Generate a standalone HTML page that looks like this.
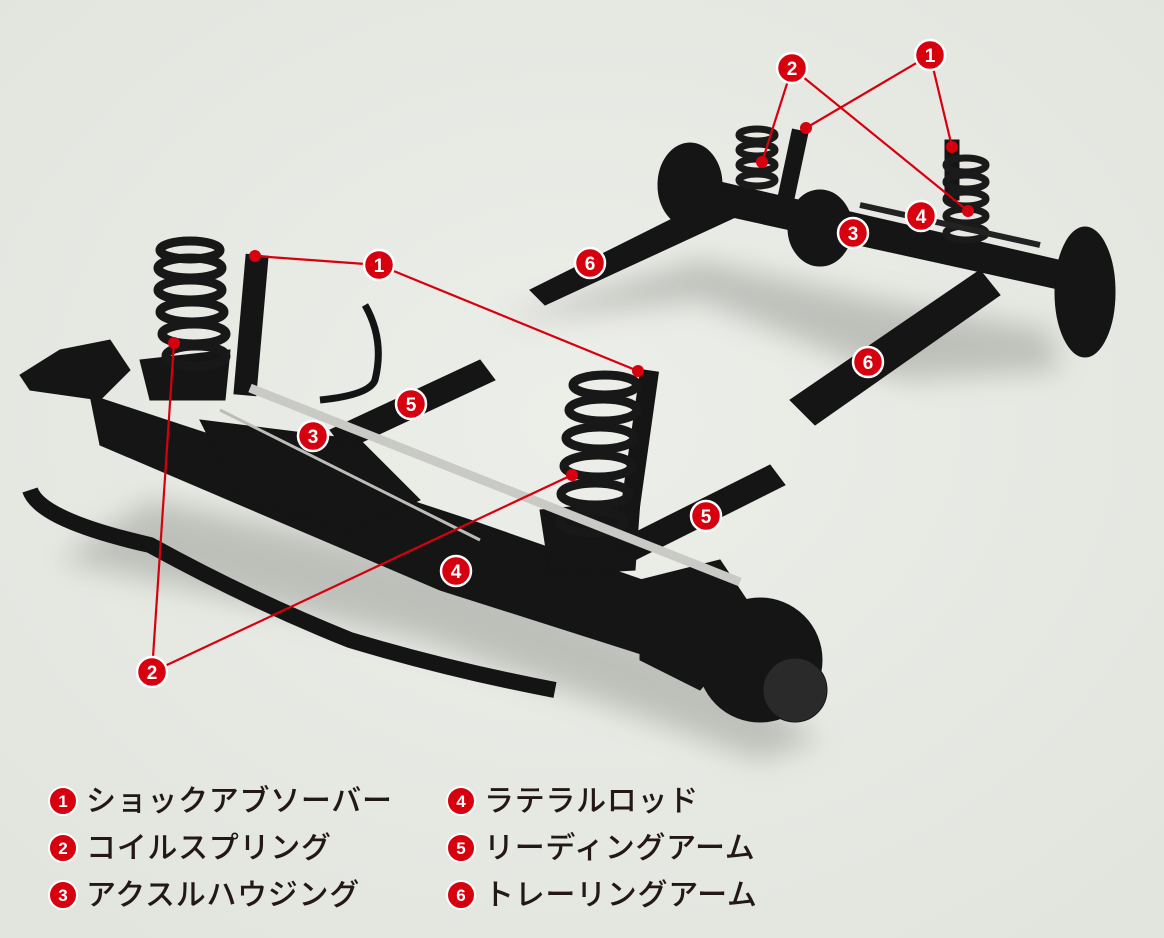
<!DOCTYPE html>
<html><head><meta charset="utf-8"><style>
html,body{margin:0;padding:0;}
body{width:1164px;height:938px;overflow:hidden;background:#e6e8e2;}
svg{display:block;}
.lg{font-family:"Liberation Sans","Noto Sans CJK JP",sans-serif;font-size:30px;font-weight:500;fill:#231815;letter-spacing:0.7px;}
.n{font-family:"Liberation Sans",sans-serif;font-weight:bold;font-size:19px;fill:#fff;text-anchor:middle;}
.nl{font-family:"Liberation Sans",sans-serif;font-weight:bold;font-size:17px;fill:#fff;text-anchor:middle;}
</style></head><body>
<svg width="1164" height="938" viewBox="0 0 1164 938" xmlns="http://www.w3.org/2000/svg">
<defs>
<radialGradient id="bg" cx="0.5" cy="0.45" r="0.7"><stop offset="0" stop-color="#eceee9"/><stop offset="1" stop-color="#e2e4de"/></radialGradient>
<filter id="bl"><feGaussianBlur stdDeviation="14"/></filter>
</defs>
<rect width="1164" height="938" fill="url(#bg)"/>
<g filter="url(#bl)" fill="#b9bbb6" opacity="0.9">
<path d="M60 560 L420 640 L650 720 L760 760 L820 740 L700 660 L450 560 L150 500 Z"/>
<path d="M500 320 L700 300 L900 380 L1060 370 L1050 330 L880 300 L700 260 Z"/>
</g>
<g fill="#151515" stroke="#151515">
<path d="M690 175 L1080 265 L1085 295 L700 210 Z"/>
<path d="M530 290 L720 195 L740 215 L545 305 Z"/>
<path d="M790 400 L980 270 L1000 295 L815 425 Z"/>
<ellipse cx="690" cy="185" rx="32" ry="42"/>
<ellipse cx="1085" cy="292" rx="30" ry="65"/>
<ellipse cx="820" cy="228" rx="32" ry="38"/>
<rect x="785" y="130" width="16" height="70" transform="rotate(12 793 165)"/>
<rect x="945" y="140" width="14" height="60"/>
<g fill="none" stroke="#1a1a1a" stroke-width="7">
<ellipse cx="757" cy="135" rx="18" ry="6"/><ellipse cx="757" cy="150" rx="18" ry="6"/><ellipse cx="757" cy="165" rx="18" ry="6"/><ellipse cx="757" cy="180" rx="18" ry="6"/>
<ellipse cx="966" cy="165" rx="20" ry="7"/><ellipse cx="966" cy="182" rx="20" ry="7"/><ellipse cx="966" cy="199" rx="20" ry="7"/><ellipse cx="966" cy="216" rx="20" ry="7"/><ellipse cx="966" cy="233" rx="20" ry="7"/>
</g>
<line x1="860" y1="205" x2="1040" y2="245" stroke="#222" stroke-width="6"/>
</g>
<g fill="#151515" stroke="#151515">
<path d="M20 375 L60 350 L110 340 L130 370 L100 400 L30 390 Z"/>
<path d="M90 395 L470 520 L700 600 L800 650 L790 700 L660 660 L440 590 L100 445 Z"/>
<path d="M200 420 L360 440 L420 500 L350 530 L240 500 Z"/>
<circle cx="760" cy="660" r="62"/>
<circle cx="795" cy="690" r="32" fill="#2a2a2a"/>
<path d="M640 580 L720 560 L760 620 L700 690 L640 660 Z"/>
<path d="M330 430 L480 360 L495 380 L345 450 Z"/>
<path d="M620 540 L770 465 L785 485 L635 560 Z"/>
<path d="M140 360 L230 350 L225 400 L150 400 Z"/>
<path d="M540 510 L640 500 L635 570 L550 575 Z"/>
<rect x="240" y="255" width="22" height="140" transform="rotate(5 251 325)"/>
<rect x="628" y="370" width="18" height="180" transform="rotate(8 637 460)"/>
<g fill="none" stroke="#181818" stroke-width="9">
<ellipse cx="190" cy="250" rx="30" ry="9"/><ellipse cx="190" cy="268" rx="32" ry="10"/><ellipse cx="190" cy="290" rx="32" ry="10"/><ellipse cx="192" cy="312" rx="32" ry="10"/><ellipse cx="194" cy="334" rx="32" ry="10"/><ellipse cx="196" cy="356" rx="30" ry="10"/>
<ellipse cx="605" cy="385" rx="32" ry="10"/><ellipse cx="603" cy="410" rx="34" ry="11"/><ellipse cx="600" cy="438" rx="34" ry="11"/><ellipse cx="598" cy="466" rx="34" ry="11"/><ellipse cx="595" cy="494" rx="34" ry="11"/><ellipse cx="592" cy="522" rx="32" ry="11"/>
</g>
<path d="M30 490 Q40 520 150 545 Q250 600 350 640 Q450 670 555 690" fill="none" stroke="#141414" stroke-width="16"/>
<path d="M365 305 Q385 340 375 380 Q370 395 320 400" fill="none" stroke="#141414" stroke-width="7"/>
</g>
<line x1="250" y1="388" x2="740" y2="582" stroke="#c9cac6" stroke-width="9"/>
<line x1="220" y1="410" x2="480" y2="540" stroke="#bdbdb8" stroke-width="3"/>
<g stroke="#d7000f" stroke-width="2.2" fill="none">
<path d="M255 256 L379 265 L638 371"/>
<path d="M174 343 L152 672 L572 475"/>
<path d="M762 162 L792 68 L968 211"/>
<path d="M806 128 L930 55 L952 147"/>
</g>
<g fill="#d7000f"><circle cx="255" cy="256" r="6"/><circle cx="638" cy="371" r="6"/><circle cx="174" cy="343" r="6"/><circle cx="572" cy="475" r="6"/><circle cx="762" cy="162" r="6"/><circle cx="968" cy="211" r="6"/><circle cx="806" cy="128" r="6"/><circle cx="952" cy="147" r="6"/></g>
<g stroke="#fff" stroke-width="2.5" fill="#d7000f">
<circle cx="379" cy="265" r="15"/><circle cx="152" cy="672" r="15"/><circle cx="313" cy="436" r="15"/><circle cx="456" cy="571" r="15"/><circle cx="411" cy="404" r="15"/><circle cx="706" cy="516" r="15"/>
<circle cx="930" cy="55" r="15"/><circle cx="792" cy="68" r="15"/><circle cx="853" cy="233" r="15"/><circle cx="921" cy="216" r="15"/><circle cx="590" cy="263" r="15"/><circle cx="868" cy="362" r="15"/>
</g>
<g class="n">
<text x="379" y="272">1</text><text x="152" y="679">2</text><text x="313" y="443">3</text><text x="456" y="578">4</text><text x="411" y="411">5</text><text x="706" y="523">5</text>
<text x="930" y="62">1</text><text x="792" y="75">2</text><text x="853" y="240">3</text><text x="921" y="223">4</text><text x="590" y="270">6</text><text x="868" y="369">6</text>
</g>
<g stroke="#fff" stroke-width="2" fill="#d7000f">
<circle cx="63" cy="801" r="14"/><circle cx="63" cy="848" r="14"/><circle cx="63" cy="895" r="14"/>
<circle cx="461" cy="801" r="14"/><circle cx="461" cy="848" r="14"/><circle cx="461" cy="895" r="14"/>
</g>
<g class="nl">
<text x="63" y="807">1</text><text x="63" y="854">2</text><text x="63" y="901">3</text>
<text x="461" y="807">4</text><text x="461" y="854">5</text><text x="461" y="901">6</text>
</g>
<g class="lg">
<text x="86" y="811">ショックアブソーバー</text>
<text x="86" y="858">コイルスプリング</text>
<text x="86" y="905">アクスルハウジング</text>
<text x="484" y="811">ラテラルロッド</text>
<text x="484" y="858">リーディングアーム</text>
<text x="484" y="905">トレーリングアーム</text>
</g>
</svg>
</body></html>
